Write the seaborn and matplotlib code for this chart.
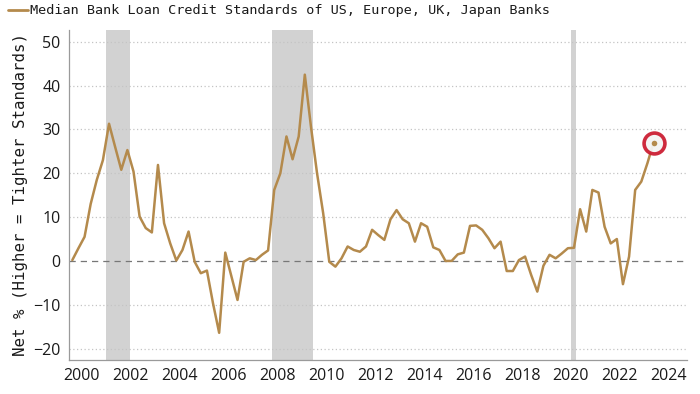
import numpy as np
import pandas as pd
import matplotlib
matplotlib.use("Agg")
import matplotlib.pyplot as plt
import seaborn as sns

# ------------------------------
# Data (quarterly)
# ------------------------------
first_quarter = "1999Q3"
last_quarter = "2023Q2"
net_pct = [
    0.2, 2.9,                      # 1999 Q3-Q4
    5.5, 13.0, 18.5, 23.0,         # 2000
    31.3, 26.0, 20.8, 25.3,        # 2001
    20.4, 10.1, 7.5, 6.5,          # 2002
    21.9, 8.6, 4.0, 0.1,           # 2003
    2.5, 6.7, -0.2, -2.8,          # 2004
    -2.2, -9.7, -16.4, 1.9,        # 2005
    -3.5, -8.9, -0.2, 0.6,         # 2006
    0.2, 1.4, 2.4, 16.2,           # 2007
    20.0, 28.4, 23.2, 28.4,        # 2008
    42.5, 30.7, 20.0, 10.9,        # 2009
    -0.2, -1.3, 0.6, 3.3,          # 2010
    2.5, 2.1, 3.3, 7.1,            # 2011
    5.9, 4.8, 9.5, 11.6,           # 2012
    9.5, 8.6, 4.4, 8.6,            # 2013
    7.8, 3.1, 2.5, 0.0,            # 2014
    0.0, 1.5, 1.9, 8.0,            # 2015
    8.1, 7.1, 5.2, 2.9,            # 2016
    4.4, -2.3, -2.3, 0.2,          # 2017
    1.0, -3.2, -7.0, -1.1,         # 2018
    1.4, 0.6, 1.7, 2.9,            # 2019
    3.0, 11.8, 6.7, 16.2,          # 2020
    15.6, 7.8, 4.0, 5.0,           # 2021
    -5.3, 1.0, 16.2, 18.1,         # 2022
    22.3, 27.0,                    # 2023 Q1-Q2
]

# US recessions (decimal years)
recession_start = [2001.0, 2007.77, 2020.0]
recession_end = [2002.0, 2009.47, 2020.22]

x_ticks = list(range(2000, 2025, 2))
y_ticks = [-20, -10, 0, 10, 20, 30, 40, 50]

title = "Median Bank Loan Credit Standards of US, Europe, UK, Japan Banks"
y_label = "Net % (Higher = Tighter Standards)"

# ------------------------------
# Build frame
# ------------------------------
quarters = pd.period_range(first_quarter, last_quarter, freq="Q")
df = pd.DataFrame({
    "year": quarters.year + (quarters.quarter - 0.5) / 4.0,
    "net": net_pct,
})

# ------------------------------
# Plot
# ------------------------------
sns.set_style("white")
plt.rcParams["font.family"] = ["DejaVu Sans"]

line_color = "#b48a4c"

fig = plt.figure(figsize=(7, 3.94), dpi=100)
ax = fig.add_axes([0.0986, 0.0863, 0.8824, 0.8377])

for s, e in zip(recession_start, recession_end):
    ax.axvspan(s, e, color="#d2d2d2", lw=0, zorder=0)

for yv in y_ticks:
    if yv == 0:
        ax.axhline(yv, color="#777777", lw=0.9, ls=(0, (5, 4)), zorder=1)
    else:
        ax.axhline(yv, color="#c4c4c4", lw=0.9, ls=(0, (1, 2)), zorder=1)

sns.lineplot(data=df, x="year", y="net", ax=ax, color=line_color, lw=1.8,
             zorder=3, label="Median Bank Loan Credit Standards")

last = df.iloc[-1]
ax.plot(last["year"], last["net"], marker="o", ms=15, mfc="#f4f4f4",
        mec="#cc1f33", mew=2.6, zorder=4, alpha=0.95)
ax.plot(last["year"], last["net"], marker="o", ms=4, mfc=line_color,
        mec="none", zorder=5)

ax.legend_.remove()
ax.set_xlim(1999.49, 2024.73)
ax.set_ylim(-22.6, 52.7)
ax.set_xticks(x_ticks)
ax.set_yticks(y_ticks)
ax.tick_params(axis="x", length=4, width=0.8, color="#9a9a9a", pad=2,
               labelsize=11.5, labelcolor="#1a1a1a")
ax.tick_params(axis="y", length=0, pad=6, labelsize=11.5, labelcolor="#1a1a1a")
for lab in ax.get_xticklabels() + ax.get_yticklabels():
    lab.set_family("Open Sans")

ax.set_xlabel("")
ax.set_ylabel(y_label, family="DejaVu Sans Mono", fontsize=11.3,
              color="#1a1a1a", labelpad=4)

for side in ["top", "right"]:
    ax.spines[side].set_visible(False)
for side in ["left", "bottom"]:
    ax.spines[side].set_color("#9a9a9a")
    ax.spines[side].set_linewidth(0.9)

# legend-like title at the top left
fig.lines.append(plt.Line2D([0.011, 0.040], [0.974, 0.974], color=line_color,
                            lw=2, transform=fig.transFigure))
fig.text(0.043, 0.974, title, family="DejaVu Sans Mono", fontsize=9.7,
         color="#1a1a1a", va="center", ha="left")

fig.savefig("out.png", dpi=100)
